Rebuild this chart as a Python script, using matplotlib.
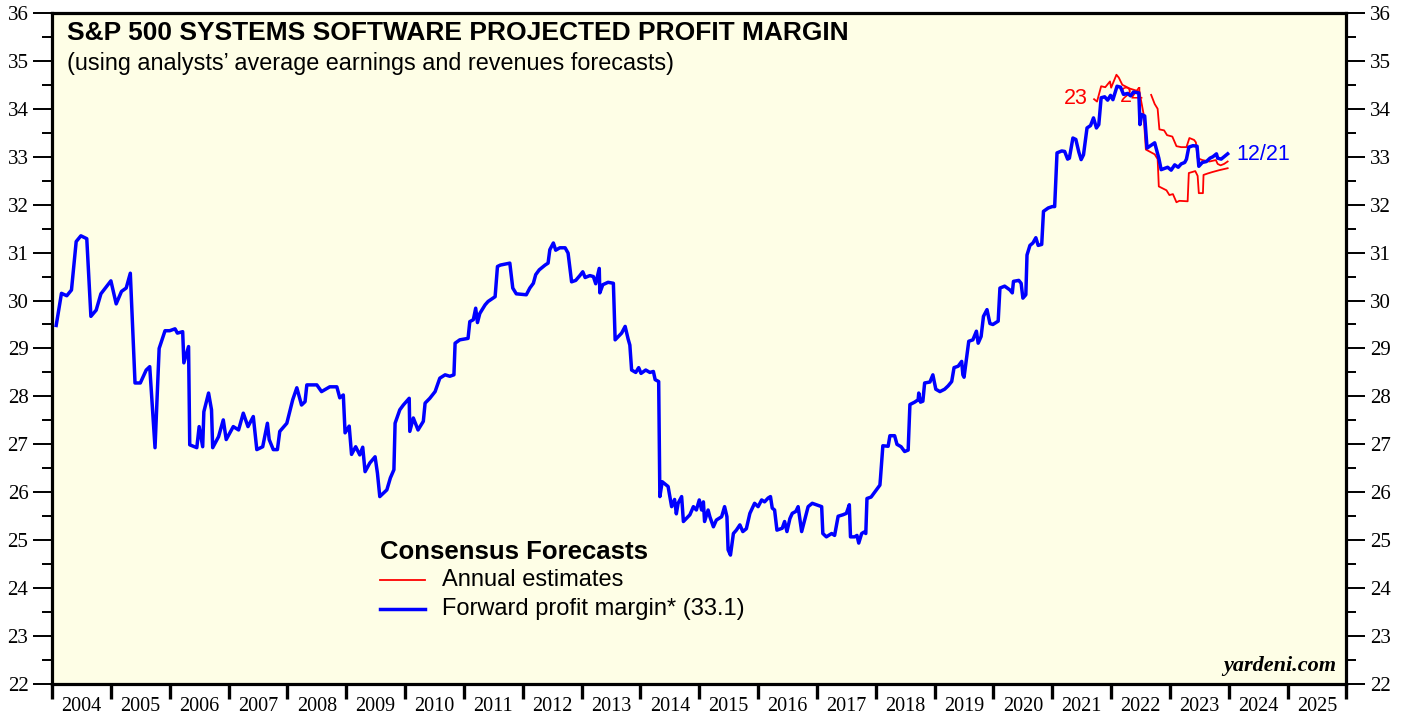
import numpy as np
import matplotlib
matplotlib.use("Agg")
from matplotlib import pyplot as plt
from matplotlib.ticker import MultipleLocator, FixedLocator, NullFormatter

# forward profit margin, weekly-ish readings (decimal year, percent)
fwdYears = [2004.07, 2004.16, 2004.25, 2004.33, 2004.41, 2004.49, 2004.59, 2004.66, 2004.75, 2004.83,
            2005.00, 2005.09, 2005.18, 2005.26, 2005.33, 2005.41, 2005.50, 2005.60, 2005.66, 2005.75,
            2005.82, 2005.92, 2006.00, 2006.09, 2006.13, 2006.22, 2006.24, 2006.32, 2006.34, 2006.46,
            2006.50, 2006.56, 2006.58, 2006.66, 2006.71, 2006.73, 2006.83, 2006.91, 2006.96, 2007.08,
            2007.17, 2007.25, 2007.33, 2007.42, 2007.48, 2007.58, 2007.66, 2007.69, 2007.76, 2007.83,
            2007.87, 2007.99, 2008.09, 2008.16, 2008.24, 2008.30, 2008.33, 2008.50, 2008.58, 2008.72,
            2008.84, 2008.89, 2008.95, 2008.98, 2009.05, 2009.09, 2009.16, 2009.23, 2009.28, 2009.32,
            2009.40, 2009.49, 2009.53, 2009.57, 2009.69, 2009.75, 2009.81, 2009.83, 2009.91, 2009.97,
            2010.07, 2010.08, 2010.14, 2010.22, 2010.31, 2010.34, 2010.42, 2010.51, 2010.59, 2010.68,
            2010.76, 2010.83, 2010.85, 2010.93, 2011.07, 2011.10, 2011.16, 2011.20, 2011.23, 2011.27,
            2011.36, 2011.41, 2011.53, 2011.57, 2011.62, 2011.78, 2011.83, 2011.89, 2012.06, 2012.12,
            2012.18, 2012.22, 2012.28, 2012.38, 2012.43, 2012.46, 2012.52, 2012.56, 2012.63, 2012.72,
            2012.77, 2012.83, 2012.90, 2012.97, 2013.02, 2013.06, 2013.14, 2013.20, 2013.24, 2013.30,
            2013.31, 2013.36, 2013.45, 2013.54, 2013.57, 2013.68, 2013.74, 2013.79, 2013.82, 2013.85,
            2013.92, 2013.97, 2014.01, 2014.09, 2014.16, 2014.22, 2014.25, 2014.31, 2014.33, 2014.37,
            2014.47, 2014.53, 2014.58, 2014.61, 2014.64, 2014.70, 2014.73, 2014.84, 2014.90, 2014.95,
            2015.00, 2015.04, 2015.07, 2015.09, 2015.15, 2015.18, 2015.24, 2015.29, 2015.38, 2015.43,
            2015.47, 2015.49, 2015.53, 2015.58, 2015.63, 2015.69, 2015.74, 2015.80, 2015.86, 2015.94,
            2016.00, 2016.06, 2016.11, 2016.17, 2016.21, 2016.24, 2016.28, 2016.32, 2016.41, 2016.45,
            2016.49, 2016.54, 2016.58, 2016.64, 2016.68, 2016.74, 2016.79, 2016.85, 2016.92, 2016.99,
            2017.08, 2017.10, 2017.16, 2017.25, 2017.30, 2017.36, 2017.44, 2017.50, 2017.55, 2017.57,
            2017.64, 2017.68, 2017.71, 2017.76, 2017.80, 2017.83, 2017.85, 2017.92, 2018.01, 2018.07,
            2018.08, 2018.12, 2018.21, 2018.24, 2018.32, 2018.36, 2018.43, 2018.49, 2018.55, 2018.58,
            2018.66, 2018.72, 2018.73, 2018.76, 2018.80, 2018.83, 2018.92, 2018.97, 2019.02, 2019.09,
            2019.17, 2019.23, 2019.29, 2019.33, 2019.40, 2019.46, 2019.48, 2019.50, 2019.54, 2019.58,
            2019.65, 2019.71, 2019.74, 2019.79, 2019.83, 2019.89, 2019.94, 2019.99, 2020.08, 2020.11,
            2020.19, 2020.28, 2020.32, 2020.34, 2020.43, 2020.47, 2020.50, 2020.55, 2020.57, 2020.62,
            2020.67, 2020.72, 2020.76, 2020.82, 2020.85, 2020.93, 2021.00, 2021.04, 2021.08, 2021.16,
            2021.21, 2021.26, 2021.29, 2021.35, 2021.40, 2021.45, 2021.49, 2021.53, 2021.59, 2021.65,
            2021.70, 2021.75, 2021.79, 2021.83, 2021.89, 2021.94, 2021.99, 2022.03, 2022.10, 2022.16,
            2022.21, 2022.28, 2022.33, 2022.38, 2022.43, 2022.47, 2022.49, 2022.52, 2022.57, 2022.61,
            2022.74, 2022.77, 2022.81, 2022.85, 2022.96, 2023.02, 2023.08, 2023.14, 2023.19, 2023.25,
            2023.28, 2023.32, 2023.39, 2023.46, 2023.49, 2023.55, 2023.62, 2023.68, 2023.73, 2023.79,
            2023.81, 2023.87, 2023.92, 2023.98]
fwdMargin = [29.48, 30.15, 30.10, 30.22, 31.23, 31.35, 31.29, 29.67, 29.80, 30.14,
             30.41, 29.93, 30.19, 30.26, 30.57, 28.28, 28.28, 28.55, 28.62, 26.93,
             29.00, 29.37, 29.37, 29.41, 29.32, 29.35, 28.70, 29.04, 26.99, 26.93,
             27.37, 26.95, 27.68, 28.07, 27.72, 26.93, 27.16, 27.51, 27.10, 27.37,
             27.30, 27.65, 27.37, 27.58, 26.89, 26.95, 27.44, 27.10, 26.89, 26.89,
             27.27, 27.44, 27.93, 28.18, 27.82, 27.89, 28.24, 28.24, 28.10, 28.20,
             28.20, 27.97, 28.03, 27.24, 27.38, 26.79, 26.95, 26.78, 26.94, 26.43,
             26.61, 26.74, 26.40, 25.91, 26.05, 26.30, 26.47, 27.44, 27.72, 27.82,
             27.96, 27.27, 27.55, 27.30, 27.48, 27.86, 27.96, 28.10, 28.38, 28.45,
             28.42, 28.45, 29.11, 29.18, 29.21, 29.56, 29.60, 29.84, 29.54, 29.73,
             29.91, 29.98, 30.08, 30.71, 30.74, 30.78, 30.26, 30.14, 30.12, 30.26,
             30.36, 30.54, 30.64, 30.74, 30.78, 31.06, 31.20, 31.05, 31.10, 31.10,
             30.99, 30.39, 30.42, 30.52, 30.60, 30.48, 30.52, 30.50, 30.35, 30.67,
             30.16, 30.33, 30.38, 30.36, 29.18, 29.32, 29.46, 29.20, 29.07, 28.55,
             28.50, 28.60, 28.48, 28.55, 28.50, 28.52, 28.35, 28.31, 25.91, 26.22,
             26.12, 25.70, 25.85, 25.55, 25.77, 25.91, 25.39, 25.53, 25.70, 25.63,
             25.84, 25.63, 25.80, 25.39, 25.63, 25.49, 25.28, 25.42, 25.49, 25.70,
             25.49, 24.80, 24.69, 25.14, 25.21, 25.32, 25.18, 25.24, 25.56, 25.77,
             25.70, 25.84, 25.80, 25.88, 25.91, 25.67, 25.63, 25.21, 25.25, 25.39,
             25.18, 25.45, 25.56, 25.60, 25.70, 25.18, 25.42, 25.70, 25.77, 25.74,
             25.70, 25.14, 25.07, 25.14, 25.10, 25.50, 25.53, 25.56, 25.74, 25.07,
             25.07, 25.10, 24.94, 25.14, 25.17, 25.14, 25.87, 25.90, 26.05, 26.15,
             26.30, 26.97, 26.96, 27.18, 27.18, 27.00, 26.95, 26.85, 26.88, 27.83,
             27.88, 27.93, 28.07, 27.88, 27.90, 28.28, 28.30, 28.45, 28.15, 28.10,
             28.15, 28.22, 28.31, 28.60, 28.63, 28.73, 28.45, 28.40, 28.77, 29.15,
             29.18, 29.36, 29.11, 29.25, 29.67, 29.81, 29.52, 29.50, 29.57, 30.26,
             30.30, 30.22, 30.16, 30.40, 30.42, 30.36, 30.05, 30.12, 30.95, 31.15,
             31.20, 31.31, 31.15, 31.17, 31.86, 31.93, 31.96, 31.96, 33.08, 33.12,
             33.11, 32.95, 32.97, 33.39, 33.36, 33.10, 32.94, 33.04, 33.60, 33.65,
             33.81, 33.60, 33.67, 34.23, 34.25, 34.18, 34.28, 34.19, 34.47, 34.45,
             34.30, 34.32, 34.27, 34.35, 34.34, 34.33, 33.67, 33.88, 33.85, 33.18,
             33.29, 33.15, 32.97, 32.73, 32.78, 32.72, 32.83, 32.78, 32.85, 32.88,
             32.95, 33.20, 33.23, 33.22, 32.80, 32.88, 32.90, 32.97, 33.00, 33.06,
             32.97, 32.95, 33.00, 33.06]

# annual consensus estimates
est23Years = [2021.71, 2021.76, 2021.83, 2021.90, 2021.98, 2022.00, 2022.09, 2022.13, 2022.19, 2022.32,
              2022.48, 2022.55, 2022.59, 2022.74, 2022.79, 2022.81, 2022.94, 2022.99, 2023.05, 2023.11,
              2023.16, 2023.30, 2023.32, 2023.43, 2023.47, 2023.49, 2023.56, 2023.57, 2023.64, 2023.72,
              2023.84, 2023.98]
est23 = [34.20, 34.15, 34.47, 34.45, 34.57, 34.44, 34.71, 34.65, 34.50, 34.42,
         34.36, 33.90, 33.15, 33.05, 32.95, 32.38, 32.30, 32.20, 32.22, 32.05,
         32.08, 32.07, 32.66, 32.70, 32.60, 32.24, 32.24, 32.62, 32.65, 32.68,
         32.72, 32.76]
est24Years = [2022.68, 2022.74, 2022.79, 2022.82, 2022.90, 2022.95, 2023.04, 2023.11, 2023.19, 2023.28,
              2023.33, 2023.41, 2023.44, 2023.47, 2023.55, 2023.67, 2023.78, 2023.81, 2023.86, 2023.92,
              2023.98]
est24 = [34.29, 34.10, 34.00, 33.57, 33.55, 33.45, 33.42, 33.22, 33.20, 33.20,
         33.39, 33.35, 33.30, 32.97, 32.93, 32.90, 32.93, 32.85, 32.82, 32.85,
         32.90]

yearLabels = [str(y) for y in range(2004, 2026)]
lastValue = 33.1
lastDate = "12/21"

sans = ["Liberation Sans", "DejaVu Sans"]
serif = ["Liberation Serif", "DejaVu Serif"]

fig = plt.figure(figsize=(14.07, 7.17), dpi=100)
ax = fig.add_axes([0.037, 0.046, 0.920, 0.936])
ax.set_facecolor("#fefee6")

ax.plot(est23Years, est23, color="#ff0000", lw=1.3, zorder=3)
ax.plot(est24Years, est24, color="#ff0000", lw=1.3, zorder=3)
ax.plot(fwdYears, fwdMargin, color="#0000ff", lw=2.5, zorder=4)

ax.set_xlim(2004, 2026)
ax.set_ylim(22, 36)

# y axis both sides
ax.yaxis.set_major_locator(MultipleLocator(1))
ax.yaxis.set_minor_locator(MultipleLocator(0.5))
ax.tick_params(axis="y", which="major", direction="out", length=14, width=1.4,
               left=True, right=True, labelleft=True, labelright=True,
               labelsize=15, pad=3)
ax.tick_params(axis="y", which="minor", direction="out", length=7, width=1.4,
               left=True, right=True)
for lab in ax.get_yticklabels():
    lab.set_fontfamily(serif)

# x axis: ticks at year boundaries, labels mid-year
ax.xaxis.set_major_locator(FixedLocator(np.arange(2004, 2027)))
ax.xaxis.set_major_formatter(NullFormatter())
ax.xaxis.set_minor_locator(FixedLocator(np.arange(2004, 2026) + 0.5))
ax.set_xticklabels(yearLabels, minor=True, fontfamily=serif, fontsize=14.5)
ax.tick_params(axis="x", which="major", direction="out", length=11, width=2.4)
ax.tick_params(axis="x", which="minor", length=0, pad=9)

for s in ax.spines.values():
    s.set_linewidth(2.3)

# titles
ax.text(0.0116, 0.970, "S&P 500 SYSTEMS SOFTWARE PROJECTED PROFIT MARGIN", transform=ax.transAxes,
        fontsize=19, fontweight="bold", family=sans, va="center", ha="left")
ax.text(0.0116, 0.924, "(using analysts\u2019 average earnings and revenues forecasts)",
        transform=ax.transAxes, fontsize=16.8, family=sans, va="center", ha="left")

# legend
ax.text(2009.58, 24.75, "Consensus Forecasts", fontsize=18.5, fontweight="bold", family=sans, va="center")
ax.plot([2009.58, 2010.33], [24.16, 24.16], color="#ff0000", lw=1.3)
ax.text(2010.63, 24.16, "Annual estimates", fontsize=17, family=sans, va="center")
ax.plot([2009.58, 2010.33], [23.56, 23.56], color="#0000ff", lw=2.5)
ax.text(2010.63, 23.56, "Forward profit margin* ({:.1f})".format(lastValue), fontsize=17,
        family=sans, va="center")

# line labels
ax.text(2021.60, 34.22, "23", color="#ff0000", fontsize=15.5, family=sans, va="center", ha="right", zorder=2)
ax.text(2022.14, 34.26, "24", color="#ff0000", fontsize=15.5, family=sans, va="center", ha="left", zorder=2)
ax.text(2024.12, 33.05, lastDate, color="#0000ff", fontsize=15.5, family=sans, va="center", ha="left")

ax.text(0.992, 0.012, "yardeni.com", transform=ax.transAxes, fontsize=16, fontweight="bold",
        fontstyle="italic", family=serif, ha="right", va="bottom")

plt.savefig("out.png", dpi=100)
